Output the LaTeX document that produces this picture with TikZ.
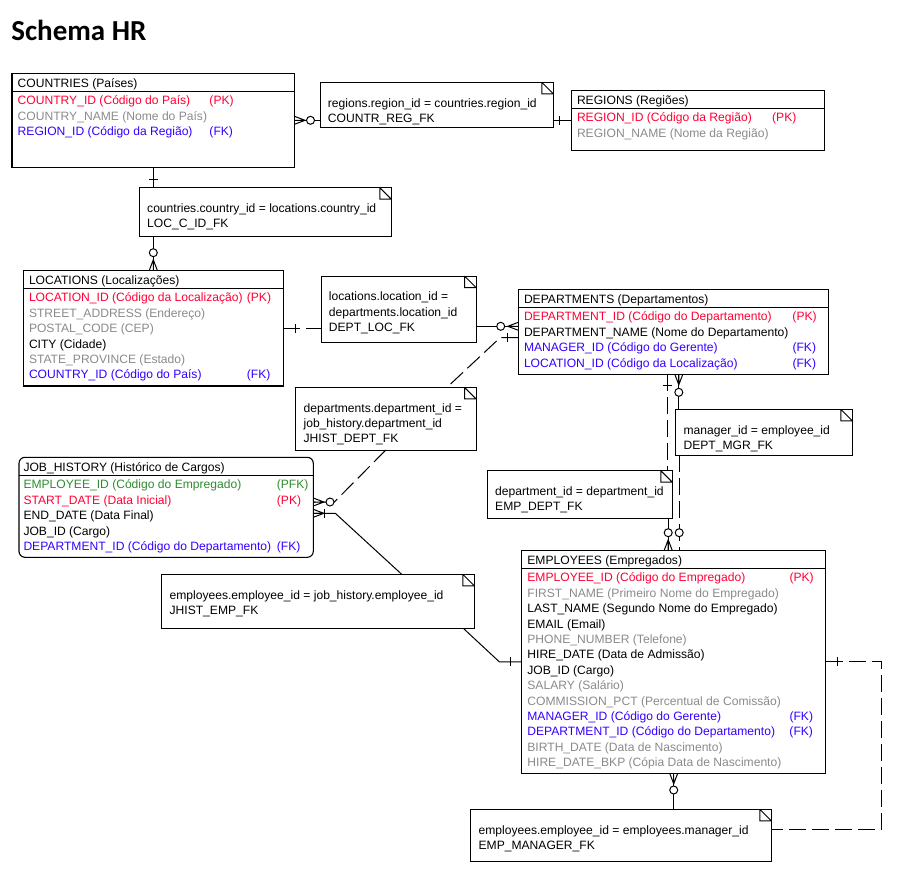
\documentclass[tikz,border=0pt]{standalone}
\usepackage{fontspec}
\setmainfont{Liberation Sans}
\newfontfamily\TitleFont{Carlito}
\usetikzlibrary{calc}
\definecolor{PkRed}{HTML}{FF0033}
\definecolor{FkBlue}{HTML}{3300FF}
\definecolor{PfkGreen}{HTML}{2E8B2E}
\definecolor{AttrGrey}{HTML}{8A8A8A}
\tikzset{
  Entity/.style={draw, line width=1.1pt, anchor=north west, inner sep=0pt, outer sep=0pt},
  Note/.style={draw, line width=1pt, anchor=north west, inner sep=0pt, outer sep=0pt},
  Row/.style={anchor=base west, inner sep=0pt, font=\fontsize{12.1}{15.4}\selectfont},
  NoteText/.style={Row, align=left},
  Link/.style={line width=1pt},
  OptLink/.style={Link, dash pattern=on 17pt off 6pt},
  CrowFoot/.pic={\draw[Link] (0,-4) -- (10.5,0) -- (0,4) (0,0) -- (10.5,0);},
  Ring/.pic={\draw[Link, fill=white] (0,0) circle[radius=4pt];},
  Tick/.pic={\draw[Link] (0,-4.5) -- (0,4.5);}
}

\begin{document}
\begin{tikzpicture}[x=1pt, y=-1pt]
  \useasboundingbox (0,0) rectangle (901,894);
  \node[anchor=base west, inner sep=0pt, font=\TitleFont\bfseries\fontsize{29}{32}\selectfont] (Title) at (11.2,40.7) {Schema HR};

  % entities
  \node[Entity, minimum width=282.5pt, minimum height=94pt] (Ctry) at (12,73.3) {};
  \node[Entity, minimum width=253pt, minimum height=60pt] (Reg) at (571.3,90.3) {};
  \node[Entity, minimum width=260pt, minimum height=115.7pt] (Loc) at (23.3,270.3) {};
  \node[Entity, minimum width=310pt, minimum height=85pt] (Dept) at (518.3,289.3) {};
  \node[Entity, rounded corners=6pt, minimum width=294.3pt, minimum height=100pt] (JobH) at (19,457.3) {};
  \node[Entity, minimum width=304pt, minimum height=223pt] (Emp) at (521.7,550.3) {};
  \foreach \e/\dx/\h in {Ctry/5.5/COUNTRIES (Países), Reg/5.5/REGIONS (Regiões), Loc/5.5/LOCATIONS (Localizações),
      Dept/5.5/DEPARTMENTS (Departamentos), JobH/4.3/JOB\_HISTORY (Histórico de Cargos), Emp/5.5/EMPLOYEES (Empregados)}{
    \draw[Link] ($(\e.north west)+(0,18.5)$) -- ($(\e.north east)+(0,18.5)$);
    \node[Row] (\e-h) at ($(\e.north west)+(\dx,14)$) {\h};
  }

  % columns
  \foreach \Txt/\Clr/\Kw [count=\i from 0] in {COUNTRY\_ID (Código do País)/PkRed/(PK),
      COUNTRY\_NAME (Nome do País)/AttrGrey/{}, REGION\_ID (Código da Região)/FkBlue/(FK)}
    \node[Row, text=\Clr] (Ctry-\i) at ($(Ctry.north west)+(5.5,31.5+15.4*\i)$) {\makebox[191.8pt][l]{\Txt}\Kw};
  \foreach \Txt/\Clr/\Kw [count=\i from 0] in {REGION\_ID (Código da Região)/PkRed/(PK),
      REGION\_NAME (Nome da Região)/AttrGrey/{}}
    \node[Row, text=\Clr] (Reg-\i) at ($(Reg.north west)+(5.5,31.5+15.4*\i)$) {\makebox[195.2pt][l]{\Txt}\Kw};
  \foreach \Txt/\Clr/\Kw [count=\i from 0] in {LOCATION\_ID (Código da Localização)/PkRed/(PK),
      STREET\_ADDRESS (Endereço)/AttrGrey/{}, POSTAL\_CODE (CEP)/AttrGrey/{}, CITY (Cidade)/black/{},
      STATE\_PROVINCE (Estado)/AttrGrey/{}, COUNTRY\_ID (Código do País)/FkBlue/(FK)}
    \node[Row, text=\Clr] (Loc-\i) at ($(Loc.north west)+(5.5,31.5+15.4*\i)$) {\makebox[217.9pt][l]{\Txt}\Kw};
  \foreach \Txt/\Clr/\Kw [count=\i from 0] in {DEPARTMENT\_ID (Código do Departamento)/PkRed/(PK),
      DEPARTMENT\_NAME (Nome do Departamento)/black/{}, MANAGER\_ID (Código do Gerente)/FkBlue/(FK),
      LOCATION\_ID (Código da Localização)/FkBlue/(FK)}
    \node[Row, text=\Clr] (Dept-\i) at ($(Dept.north west)+(5.5,31.5+15.4*\i)$) {\makebox[268.5pt][l]{\Txt}\Kw};
  \foreach \Txt/\Clr/\Kw [count=\i from 0] in {EMPLOYEE\_ID (Código do Empregado)/PfkGreen/(PFK),
      START\_DATE (Data Inicial)/PkRed/(PK), END\_DATE (Data Final)/black/{}, JOB\_ID (Cargo)/black/{},
      DEPARTMENT\_ID (Código do Departamento)/FkBlue/(FK)}
    \node[Row, text=\Clr] (JobH-\i) at ($(JobH.north west)+(4.3,31.5+15.4*\i)$) {\makebox[253.4pt][l]{\Txt}\Kw};
  \foreach \Txt/\Clr/\Kw [count=\i from 0] in {EMPLOYEE\_ID (Código do Empregado)/PkRed/(PK),
      FIRST\_NAME (Primeiro Nome do Empregado)/AttrGrey/{}, LAST\_NAME (Segundo Nome do Empregado)/black/{},
      EMAIL (Email)/black/{}, PHONE\_NUMBER (Telefone)/AttrGrey/{}, HIRE\_DATE (Data de Admissão)/black/{},
      JOB\_ID (Cargo)/black/{}, SALARY (Salário)/AttrGrey/{}, COMMISSION\_PCT (Percentual de Comissão)/AttrGrey/{},
      MANAGER\_ID (Código do Gerente)/FkBlue/(FK), DEPARTMENT\_ID (Código do Departamento)/FkBlue/(FK),
      BIRTH\_DATE (Data de Nascimento)/AttrGrey/{}, HIRE\_DATE\_BKP (Cópia Data de Nascimento)/AttrGrey/{}}
    \node[Row, text=\Clr] (Emp-\i) at ($(Emp.north west)+(5.5,31.5+15.4*\i)$) {\makebox[262.1pt][l]{\Txt}\Kw};

  % relationship notes
  \node[Note, minimum width=233.3pt, minimum height=45pt] (CtryReg) at (320,82.3) {};
  \node[Note, minimum width=252pt, minimum height=48.3pt] (LocCtry) at (139.3,187.7) {};
  \node[Note, minimum width=155pt, minimum height=66pt] (DeptLoc) at (321,276) {};
  \node[Note, minimum width=180.3pt, minimum height=62.7pt] (JhDept) at (295.7,387.3) {};
  \node[Note, minimum width=312.6pt, minimum height=54pt] (JhEmp) at (161.7,574.3) {};
  \node[Note, minimum width=185pt, minimum height=47.6pt] (EmpDept) at (487.3,470.7) {};
  \node[Note, minimum width=176.6pt, minimum height=46pt] (DeptMgr) at (675.7,409.3) {};
  \node[Note, minimum width=300.6pt, minimum height=51.7pt] (EmpMgr) at (470.7,809.3) {};
  \foreach \n/\nl/\Txt in {CtryReg/2/{regions.region\_id = countries.region\_id\\COUNTR\_REG\_FK},
      LocCtry/2/{countries.country\_id = locations.country\_id\\LOC\_C\_ID\_FK},
      DeptLoc/3/{locations.location\_id =\\departments.location\_id\\DEPT\_LOC\_FK},
      JhDept/3/{departments.department\_id =\\job\_history.department\_id\\JHIST\_DEPT\_FK},
      JhEmp/2/{employees.employee\_id = job\_history.employee\_id\\JHIST\_EMP\_FK},
      EmpDept/2/{department\_id = department\_id\\EMP\_DEPT\_FK},
      DeptMgr/2/{manager\_id = employee\_id\\DEPT\_MGR\_FK},
      EmpMgr/2/{employees.employee\_id = employees.manager\_id\\EMP\_MANAGER\_FK}}{
    \draw[Link] ($(\n.north east)+(-11.5,0)$) -- ++(0,11.5) -- ++(11.5,0)
      ($(\n.north east)+(-11.5,0)$) -- ++(11.5,11.5);
    % base anchor sits on the last line
    \node[NoteText] (\n-t) at ($(\n.north west)+(7.7,24.8+15.4*\nl-15.4)$) {\Txt};
  }

  % COUNTRIES - REGIONS
  \draw[Link] (Ctry.east) -- (Ctry.east -| CtryReg.west);
  \draw[Link] (CtryReg.east |- Reg.west) -- (Reg.west);
  % COUNTRIES - LOCATIONS
  \draw[Link] (Ctry.south) -- (Ctry.south |- LocCtry.north);
  \draw[Link] (LocCtry.south -| Loc.north) -- (Loc.north);
  % LOCATIONS - DEPARTMENTS
  \coordinate (DeptW1) at ($(Dept.west)+(0,-5.5)$);
  \coordinate (DeptW2) at ($(Dept.west)+(0,5.7)$);
  \draw[OptLink] (Loc.east) -- (Loc.east -| DeptLoc.west);
  \draw[Link] (DeptW1 -| DeptLoc.east) -- (DeptW1);
  % DEPARTMENTS - JOB_HISTORY
  \coordinate (JobE1) at ($(JobH.east)+(0,-5.3)$);
  \coordinate (JobE2) at ($(JobH.east)+(0,6)$);
  \draw[OptLink] (DeptW2) -- ++(-18,0) -- ($(JhDept.north east)+(-29,0)$);
  \draw[OptLink] (JhDept.south) -- ($(JobE1)+(21,0)$) -- (JobE1);
  % EMPLOYEES - JOB_HISTORY
  \draw[Link] (JobE2) -- ++(22,0) -- ($(JhEmp.north east)+(-72.6,0)$);
  \draw[Link] ($(JhEmp.south east)+(-11,0)$) -- ($(Emp.west)+(-22.4,0)$) -- (Emp.west);
  % DEPARTMENTS - EMPLOYEES
  \coordinate (DeptS1) at ($(Dept.south)+(-5.5,0)$);
  \coordinate (DeptS2) at ($(Dept.south)+(5.5,0)$);
  \coordinate (EmpN1) at ($(Emp.north)+(-5.5,0)$);
  \coordinate (EmpN2) at ($(Emp.north)+(5.5,0)$);
  \draw[OptLink] (DeptS1) -- (DeptS1 |- EmpDept.north);
  \draw[Link] (EmpN1 |- EmpDept.south) -- (EmpN1);
  \draw[Link] (DeptS2) -- (DeptS2 |- DeptMgr.north);
  \draw[OptLink] (EmpN2 |- DeptMgr.south) -- (EmpN2);
  % EMPLOYEES - EMPLOYEES
  \draw[OptLink] (Emp.east) -- ++(56,0) |- ($(EmpMgr.east)+(0,-6)$);
  \draw[Link] (Emp.south) -- (Emp.south |- EmpMgr.north);

  % cardinality marks
  \pic at (Ctry.east) {CrowFoot};
  \pic at ($(Ctry.east)+(16,0)$) {Ring};
  \pic at ($(Reg.west)+(-12,0)$) {Tick};
  \pic[rotate=90] at ($(Ctry.south)+(0,12)$) {Tick};
  \pic[rotate=90] at (Loc.north) {CrowFoot};
  \pic at ($(Loc.north)+(0,-17.6)$) {Ring};
  \pic at ($(Loc.east)+(12.4,0)$) {Tick};
  \pic[rotate=180] at (DeptW1) {CrowFoot};
  \pic at ($(DeptW1)+(-17.6,0)$) {Ring};
  \pic at ($(DeptW2)+(-11,0)$) {Tick};
  \pic at (JobE1) {CrowFoot};
  \pic at ($(JobE1)+(16.7,0)$) {Ring};
  \pic at (JobE2) {CrowFoot};
  \pic at ($(JobE2)+(10.7,0)$) {Tick};
  \pic at ($(Emp.west)+(-11.4,0)$) {Tick};
  \pic[rotate=90] at ($(DeptS1)+(0,11.4)$) {Tick};
  \pic[rotate=90] at (EmpN1) {CrowFoot};
  \pic at ($(EmpN1)+(0,-17.6)$) {Ring};
  \pic[rotate=-90] at (DeptS2) {CrowFoot};
  \pic at ($(DeptS2)+(0,18)$) {Ring};
  \pic at ($(EmpN2)+(0,-17.6)$) {Ring};
  \pic at ($(Emp.east)+(12,0)$) {Tick};
  \pic[rotate=-90] at (Emp.south) {CrowFoot};
  \pic at ($(Emp.south)+(0,16.7)$) {Ring};
\end{tikzpicture}
\end{document}
